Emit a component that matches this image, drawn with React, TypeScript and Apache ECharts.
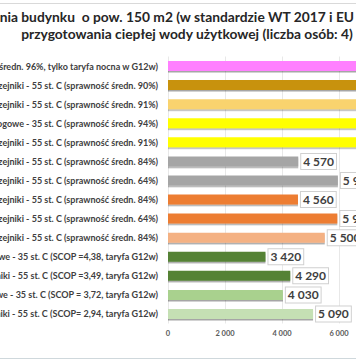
import React, { useEffect, useRef } from "react";
import * as echarts from "echarts";

const titleLine1 = "Roczne koszty ogrzewania budynku  o pow. 150 m2 (w standardzie WT 2017 i EU 2021) oraz";
const titleVisibleFrom = "nia budynku";
const titleLine2 = "przygotowania ciepłej wody użytkowej (liczba osób: 4)";

const categories = [
  "Ogrzewanie elektryczne akumulacyjne (sprawność średn. 96%, tylko taryfa nocna w G12w)",
  "Kocioł olejowy kondensacyjny, grzejniki - 55 st. C (sprawność średn. 90%)",
  "Kocioł gazowy kondensacyjny (propan), grzejniki - 55 st. C (sprawność średn. 91%)",
  "Kocioł gazowy kondensacyjny (propan), ogrzewanie podłogowe - 35 st. C (sprawność średn. 94%)",
  "Kocioł na pellet, grzejniki - 55 st. C (sprawność średn. 91%)",
  "Kocioł węglowy 5 klasy, grzejniki - 55 st. C (sprawność średn. 84%)",
  "Kocioł węglowy zasypowy, grzejniki - 55 st. C (sprawność średn. 64%)",
  "Kocioł na drewno 5 klasy, grzejniki - 55 st. C (sprawność średn. 84%)",
  "Kocioł na drewno zasypowy, grzejniki - 55 st. C (sprawność średn. 64%)",
  "Kocioł na ekogroszek, grzejniki - 55 st. C (sprawność średn. 84%)",
  "Gruntowa pompa ciepła, ogrzewanie podłogowe - 35 st. C (SCOP =4,38, taryfa G12w)",
  "Gruntowa pompa ciepła, grzejniki - 55 st. C (SCOP =3,49, taryfa G12w)",
  "Powietrzna pompa ciepła, ogrzewanie podłogowe - 35 st. C (SCOP = 3,72, taryfa G12w)",
  "Powietrzna pompa ciepła, grzejniki - 55 st. C (SCOP= 2,94, taryfa G12w)",
];

const values = [8960, 7720, 7350, 6780, 7010, 4570, 5960, 4560, 5940, 5500, 3420, 4290, 4030, 5090];

const barColors = [
  "#ff80ff",
  "#c8920e",
  "#f9d36e",
  "#ffff00",
  "#ffff00",
  "#a5a5a5",
  "#a5a5a5",
  "#ed7d31",
  "#ed7d31",
  "#f4b183",
  "#548235",
  "#548235",
  "#a9d18e",
  "#c5e0b4",
];

const xMin = 0;
const xMax = 10000;
const xInterval = 2000;

const fmt = (n: number) => String(n).replace(/\B(?=(\d{3})+(?!\d))/g, " ");

const FONT = "Lato, 'Noto Sans', sans-serif";

export default function App() {
  const ref = useRef<HTMLDivElement>(null);
  useEffect(() => {
    if (!ref.current) return;
    const chart = echarts.init(ref.current, undefined, { renderer: "svg" });
    const titleFont = `bold 13.8px ${FONT}`;
    const cv = document.createElement("canvas");
    const ctx = cv.getContext("2d")!;
    ctx.font = titleFont;
    const prefix = titleLine1.slice(0, titleLine1.indexOf(titleVisibleFrom));
    const prefixW = ctx.measureText(prefix).width;

    chart.setOption({
      animation: false,
      backgroundColor: "#ffffff",
      graphic: [
        { type: "line", shape: { x1: 0, y1: 3.5, x2: 356, y2: 3.5 }, style: { stroke: "#d9d9d9", lineWidth: 1 } },
        { type: "line", shape: { x1: 0, y1: 358.5, x2: 356, y2: 358.5 }, style: { stroke: "#cfd8dc", lineWidth: 1 } },
        {
          type: "text",
          x: -prefixW,
          y: 16,
          style: { text: titleLine1, font: titleFont, fill: "#262626", textAlign: "left", textVerticalAlign: "middle" },
        },
        {
          type: "text",
          x: 187,
          y: 33,
          style: { text: titleLine2, font: titleFont, fill: "#262626", textAlign: "center", textVerticalAlign: "middle" },
        },
      ],
      grid: { left: 168, top: 56.5, width: 285, height: 267, containLabel: false, outerBoundsMode: "none" },
      xAxis: {
        type: "value",
        min: xMin,
        max: xMax,
        interval: xInterval,
        axisLine: { show: false },
        axisTick: { show: false },
        splitLine: { show: true, lineStyle: { color: "#e8e8e8", width: 1 } },
        axisLabel: {
          formatter: (v: number) => fmt(v),
          fontSize: 7.5,
          fontWeight: "bold",
          color: "#595959",
          fontFamily: FONT,
          margin: 6,
        },
      },
      yAxis: {
        type: "category",
        data: categories,
        inverse: true,
        axisLine: { show: false },
        axisTick: { show: false },
        splitLine: { show: false },
        axisLabel: {
          fontSize: 9,
          fontWeight: "bold",
          color: "#404040",
          fontFamily: FONT,
          margin: 10,
        },
      },
      series: [
        {
          type: "bar",
          barWidth: 10,
          data: values.map((v, i) => ({
            value: v,
            itemStyle: {
              color: barColors[i],
              shadowColor: "rgba(0,0,0,0.35)",
              shadowOffsetY: 1.5,
              shadowBlur: 1,
            },
          })),
          label: {
            show: true,
            position: "right",
            distance: 3,
            formatter: (p: any) => fmt(p.value),
            fontSize: 12,
            fontWeight: "bold",
            color: "#404040",
            fontFamily: FONT,
            backgroundColor: "#ffffff",
            borderColor: "#d0d0d0",
            borderWidth: 1,
            padding: [2, 2, 1, 2],
          },
        },
      ],
    });
    return () => chart.dispose();
  }, []);
  return (
    <div style={{ position: "fixed", left: 0, top: 0, width: 356, height: 364, overflow: "hidden", background: "#fff" }}>
      <div ref={ref} style={{ width: 356, height: 364 }} />
    </div>
  );
}
